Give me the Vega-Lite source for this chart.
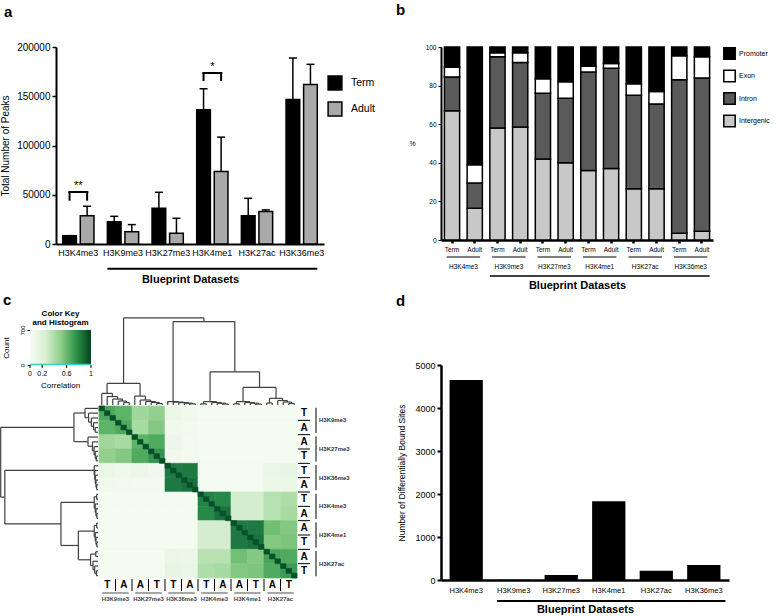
{
"$schema":"https://vega.github.io/schema/vega-lite/v6.json",
"background":"white",
"padding":{"left":0,"top":3,"right":0,"bottom":0},
"config":{"view":{"stroke":null},"font":"Liberation Sans",
 "axis":{"grid":false,"domainColor":"#000","tickColor":"#000","labelColor":"#000","titleColor":"#000","titleFontWeight":"normal"},
 "legend":{"labelColor":"#000"},
 "text":{"color":"#000"},
 "title":{"anchor":"start","fontWeight":"bold","fontSize":15,"color":"#000"}},
"resolve":{"scale":{"fill":"independent","color":"independent","stroke":"independent"},"legend":{"fill":"independent"}},
"datasets":{
"peaks":[
{"cat":"H3K4me3","grp":"Term","v":8500,"e":8500},
{"cat":"H3K4me3","grp":"Adult","v":28800,"e":38300},
{"cat":"H3K9me3","grp":"Term","v":22700,"e":28100},
{"cat":"H3K9me3","grp":"Adult","v":12500,"e":19700},
{"cat":"H3K27me3","grp":"Term","v":36300,"e":52500},
{"cat":"H3K27me3","grp":"Adult","v":10800,"e":26100},
{"cat":"H3K4me1","grp":"Term","v":136300,"e":157600},
{"cat":"H3K4me1","grp":"Adult","v":73600,"e":108500},
{"cat":"H3K27ac","grp":"Term","v":28800,"e":46400},
{"cat":"H3K27ac","grp":"Adult","v":32900,"e":34600},
{"cat":"H3K36me3","grp":"Term","v":146800,"e":188800},
{"cat":"H3K36me3","grp":"Adult","v":162000,"e":182400}],
"sig":[{"cat":"H3K4me3","lo":44000,"hi":52800,"ty":58500,"s":"**"},{"cat":"H3K4me1","lo":165500,"hi":173600,"ty":179500,"s":"*"}],
"regions":[
{"id":"H3K4me3 Term","reg":"Intergenic","pct":67,"k":1},{"id":"H3K4me3 Term","reg":"Intron","pct":17.5,"k":2},{"id":"H3K4me3 Term","reg":"Exon","pct":5,"k":3},{"id":"H3K4me3 Term","reg":"Promoter","pct":10.5,"k":4},
{"id":"H3K4me3 Adult","reg":"Intergenic","pct":16.5,"k":1},{"id":"H3K4me3 Adult","reg":"Intron","pct":13,"k":2},{"id":"H3K4me3 Adult","reg":"Exon","pct":9.5,"k":3},{"id":"H3K4me3 Adult","reg":"Promoter","pct":61,"k":4},
{"id":"H3K9me3 Term","reg":"Intergenic","pct":58,"k":1},{"id":"H3K9me3 Term","reg":"Intron","pct":37,"k":2},{"id":"H3K9me3 Term","reg":"Exon","pct":2,"k":3},{"id":"H3K9me3 Term","reg":"Promoter","pct":3,"k":4},
{"id":"H3K9me3 Adult","reg":"Intergenic","pct":58.5,"k":1},{"id":"H3K9me3 Adult","reg":"Intron","pct":33.5,"k":2},{"id":"H3K9me3 Adult","reg":"Exon","pct":5,"k":3},{"id":"H3K9me3 Adult","reg":"Promoter","pct":3,"k":4},
{"id":"H3K27me3 Term","reg":"Intergenic","pct":42,"k":1},{"id":"H3K27me3 Term","reg":"Intron","pct":34,"k":2},{"id":"H3K27me3 Term","reg":"Exon","pct":7.5,"k":3},{"id":"H3K27me3 Term","reg":"Promoter","pct":16.5,"k":4},
{"id":"H3K27me3 Adult","reg":"Intergenic","pct":40,"k":1},{"id":"H3K27me3 Adult","reg":"Intron","pct":33.5,"k":2},{"id":"H3K27me3 Adult","reg":"Exon","pct":8.5,"k":3},{"id":"H3K27me3 Adult","reg":"Promoter","pct":18,"k":4},
{"id":"H3K4me1 Term","reg":"Intergenic","pct":36,"k":1},{"id":"H3K4me1 Term","reg":"Intron","pct":51,"k":2},{"id":"H3K4me1 Term","reg":"Exon","pct":3,"k":3},{"id":"H3K4me1 Term","reg":"Promoter","pct":10,"k":4},
{"id":"H3K4me1 Adult","reg":"Intergenic","pct":37,"k":1},{"id":"H3K4me1 Adult","reg":"Intron","pct":52,"k":2},{"id":"H3K4me1 Adult","reg":"Exon","pct":2.5,"k":3},{"id":"H3K4me1 Adult","reg":"Promoter","pct":8.5,"k":4},
{"id":"H3K27ac Term","reg":"Intergenic","pct":26.5,"k":1},{"id":"H3K27ac Term","reg":"Intron","pct":48.5,"k":2},{"id":"H3K27ac Term","reg":"Exon","pct":6,"k":3},{"id":"H3K27ac Term","reg":"Promoter","pct":19,"k":4},
{"id":"H3K27ac Adult","reg":"Intergenic","pct":26.5,"k":1},{"id":"H3K27ac Adult","reg":"Intron","pct":44,"k":2},{"id":"H3K27ac Adult","reg":"Exon","pct":6.5,"k":3},{"id":"H3K27ac Adult","reg":"Promoter","pct":23,"k":4},
{"id":"H3K36me3 Term","reg":"Intergenic","pct":3.5,"k":1},{"id":"H3K36me3 Term","reg":"Intron","pct":79.5,"k":2},{"id":"H3K36me3 Term","reg":"Exon","pct":12.5,"k":3},{"id":"H3K36me3 Term","reg":"Promoter","pct":4.5,"k":4},
{"id":"H3K36me3 Adult","reg":"Intergenic","pct":4.5,"k":1},{"id":"H3K36me3 Adult","reg":"Intron","pct":79.5,"k":2},{"id":"H3K36me3 Adult","reg":"Exon","pct":11,"k":3},{"id":"H3K36me3 Adult","reg":"Promoter","pct":5,"k":4}],
"bgroups":[
{"a":"H3K4me3 Term","b":"H3K4me3 Adult","m":"H3K4me3"},
{"a":"H3K9me3 Term","b":"H3K9me3 Adult","m":"H3K9me3"},
{"a":"H3K27me3 Term","b":"H3K27me3 Adult","m":"H3K27me3"},
{"a":"H3K4me1 Term","b":"H3K4me1 Adult","m":"H3K4me1"},
{"a":"H3K27ac Term","b":"H3K27ac Adult","m":"H3K27ac"},
{"a":"H3K36me3 Term","b":"H3K36me3 Adult","m":"H3K36me3"}],
"keyticks":[{"t":0,"l":"0"},{"t":0.2,"l":"0.2"},{"t":0.6,"l":"0.6"},{"t":1,"l":"1"}],
"dbs":[{"cat":"H3K4me3","v":4650},{"cat":"H3K9me3","v":8},{"cat":"H3K27me3","v":115},{"cat":"H3K4me1","v":1830},{"cat":"H3K27ac","v":215},{"cat":"H3K36me3","v":350}],
"tree":[
{"xl":4.5,"xr":5.5,"h":2.5,"hl":0,"hr":0},{"xl":3.5,"xr":5,"h":4,"hl":0,"hr":2.5},{"xl":2.5,"xr":4.25,"h":6,"hl":0,"hr":4},{"xl":1.5,"xr":3.375,"h":8.5,"hl":0,"hr":6},{"xl":0.5,"xr":2.4375,"h":11.7,"hl":0,"hr":8.5},
{"xl":10.5,"xr":11.5,"h":1.5,"hl":0,"hr":0},{"xl":9.5,"xr":11,"h":2.5,"hl":0,"hr":1.5},{"xl":8.5,"xr":10.25,"h":3.5,"hl":0,"hr":2.5},{"xl":7.5,"xr":9.375,"h":5,"hl":0,"hr":3.5},{"xl":6.5,"xr":8.4375,"h":9,"hl":0,"hr":5},
{"xl":1.469,"xr":7.469,"h":21.7,"hl":11.7,"hr":9},
{"xl":16.5,"xr":17.5,"h":1.2,"hl":0,"hr":0},{"xl":15.5,"xr":17,"h":1.8,"hl":0,"hr":1.2},{"xl":14.5,"xr":16.25,"h":2.4,"hl":0,"hr":1.8},{"xl":13.5,"xr":15.375,"h":2.9,"hl":0,"hr":2.4},{"xl":12.5,"xr":14.4375,"h":3.4,"hl":0,"hr":2.9},
{"xl":18.5,"xr":19.5,"h":1.2,"hl":0,"hr":0},{"xl":22.5,"xr":23.5,"h":1,"hl":0,"hr":0},{"xl":21.5,"xr":23,"h":1.8,"hl":0,"hr":1},{"xl":20.5,"xr":22.25,"h":2.5,"hl":0,"hr":1.8},{"xl":19,"xr":21.375,"h":3.4,"hl":1.2,"hr":2.5},
{"xl":24.5,"xr":25.5,"h":1.2,"hl":0,"hr":0},{"xl":28.5,"xr":29.5,"h":1,"hl":0,"hr":0},{"xl":27.5,"xr":29,"h":1.8,"hl":0,"hr":1},{"xl":26.5,"xr":28.25,"h":2.5,"hl":0,"hr":1.8},{"xl":25,"xr":27.375,"h":3.4,"hl":1.2,"hr":2.5},
{"xl":30.5,"xr":31.5,"h":2,"hl":0,"hr":0},{"xl":34.5,"xr":35.5,"h":1.5,"hl":0,"hr":0},{"xl":33.5,"xr":35,"h":3,"hl":0,"hr":1.5},{"xl":32.5,"xr":34.25,"h":4.5,"hl":0,"hr":3},{"xl":31,"xr":33.375,"h":6.7,"hl":2,"hr":4.5},
{"xl":26.1875,"xr":32.1875,"h":17.7,"hl":3.4,"hr":6.7},
{"xl":20.1875,"xr":29.1875,"h":33.4,"hl":3.4,"hr":17.7},
{"xl":13.469,"xr":24.6875,"h":84,"hl":3.4,"hr":33.4},
{"xl":4.469,"xr":19.078,"h":87.7,"hl":21.7,"hr":84}],
"blocks":[
{"r":0,"c":0,"v":0.66},{"r":0,"c":1,"v":0.6},{"r":0,"c":2,"v":0.42},{"r":0,"c":3,"v":0.46},{"r":0,"c":4,"v":0.12},{"r":0,"c":5,"v":0.07},{"r":0,"c":6,"v":0.03},{"r":0,"c":7,"v":0.03},{"r":0,"c":8,"v":0.03},{"r":0,"c":9,"v":0.03},{"r":0,"c":10,"v":0.03},{"r":0,"c":11,"v":0.03},
{"r":1,"c":0,"v":0.6},{"r":1,"c":1,"v":0.65},{"r":1,"c":2,"v":0.4},{"r":1,"c":3,"v":0.5},{"r":1,"c":4,"v":0.07},{"r":1,"c":5,"v":0.05},{"r":1,"c":6,"v":0.03},{"r":1,"c":7,"v":0.03},{"r":1,"c":8,"v":0.03},{"r":1,"c":9,"v":0.03},{"r":1,"c":10,"v":0.03},{"r":1,"c":11,"v":0.03},
{"r":2,"c":0,"v":0.42},{"r":2,"c":1,"v":0.4},{"r":2,"c":2,"v":0.6},{"r":2,"c":3,"v":0.65},{"r":2,"c":4,"v":0.1},{"r":2,"c":5,"v":0.04},{"r":2,"c":6,"v":0.03},{"r":2,"c":7,"v":0.03},{"r":2,"c":8,"v":0.03},{"r":2,"c":9,"v":0.03},{"r":2,"c":10,"v":0.03},{"r":2,"c":11,"v":0.03},
{"r":3,"c":0,"v":0.46},{"r":3,"c":1,"v":0.5},{"r":3,"c":2,"v":0.65},{"r":3,"c":3,"v":0.75},{"r":3,"c":4,"v":0.06},{"r":3,"c":5,"v":0.04},{"r":3,"c":6,"v":0.03},{"r":3,"c":7,"v":0.03},{"r":3,"c":8,"v":0.03},{"r":3,"c":9,"v":0.03},{"r":3,"c":10,"v":0.03},{"r":3,"c":11,"v":0.03},
{"r":4,"c":0,"v":0.12},{"r":4,"c":1,"v":0.07},{"r":4,"c":2,"v":0.1},{"r":4,"c":3,"v":0.06},{"r":4,"c":4,"v":0.85},{"r":4,"c":5,"v":0.85},{"r":4,"c":6,"v":0.03},{"r":4,"c":7,"v":0.03},{"r":4,"c":8,"v":0.03},{"r":4,"c":9,"v":0.03},{"r":4,"c":10,"v":0.12},{"r":4,"c":11,"v":0.15},
{"r":5,"c":0,"v":0.07},{"r":5,"c":1,"v":0.05},{"r":5,"c":2,"v":0.04},{"r":5,"c":3,"v":0.04},{"r":5,"c":4,"v":0.85},{"r":5,"c":5,"v":0.88},{"r":5,"c":6,"v":0.03},{"r":5,"c":7,"v":0.03},{"r":5,"c":8,"v":0.03},{"r":5,"c":9,"v":0.03},{"r":5,"c":10,"v":0.1},{"r":5,"c":11,"v":0.12},
{"r":6,"c":0,"v":0.03},{"r":6,"c":1,"v":0.03},{"r":6,"c":2,"v":0.03},{"r":6,"c":3,"v":0.03},{"r":6,"c":4,"v":0.03},{"r":6,"c":5,"v":0.03},{"r":6,"c":6,"v":0.82},{"r":6,"c":7,"v":0.8},{"r":6,"c":8,"v":0.25},{"r":6,"c":9,"v":0.25},{"r":6,"c":10,"v":0.35},{"r":6,"c":11,"v":0.38},
{"r":7,"c":0,"v":0.03},{"r":7,"c":1,"v":0.03},{"r":7,"c":2,"v":0.03},{"r":7,"c":3,"v":0.03},{"r":7,"c":4,"v":0.03},{"r":7,"c":5,"v":0.03},{"r":7,"c":6,"v":0.8},{"r":7,"c":7,"v":0.88},{"r":7,"c":8,"v":0.25},{"r":7,"c":9,"v":0.25},{"r":7,"c":10,"v":0.35},{"r":7,"c":11,"v":0.4},
{"r":8,"c":0,"v":0.03},{"r":8,"c":1,"v":0.03},{"r":8,"c":2,"v":0.03},{"r":8,"c":3,"v":0.03},{"r":8,"c":4,"v":0.03},{"r":8,"c":5,"v":0.03},{"r":8,"c":6,"v":0.25},{"r":8,"c":7,"v":0.25},{"r":8,"c":8,"v":0.85},{"r":8,"c":9,"v":0.85},{"r":8,"c":10,"v":0.55},{"r":8,"c":11,"v":0.5},
{"r":9,"c":0,"v":0.03},{"r":9,"c":1,"v":0.03},{"r":9,"c":2,"v":0.03},{"r":9,"c":3,"v":0.03},{"r":9,"c":4,"v":0.03},{"r":9,"c":5,"v":0.03},{"r":9,"c":6,"v":0.25},{"r":9,"c":7,"v":0.25},{"r":9,"c":8,"v":0.85},{"r":9,"c":9,"v":0.88},{"r":9,"c":10,"v":0.5},{"r":9,"c":11,"v":0.52},
{"r":10,"c":0,"v":0.03},{"r":10,"c":1,"v":0.03},{"r":10,"c":2,"v":0.03},{"r":10,"c":3,"v":0.03},{"r":10,"c":4,"v":0.12},{"r":10,"c":5,"v":0.1},{"r":10,"c":6,"v":0.35},{"r":10,"c":7,"v":0.35},{"r":10,"c":8,"v":0.55},{"r":10,"c":9,"v":0.5},{"r":10,"c":10,"v":0.68},{"r":10,"c":11,"v":0.65},
{"r":11,"c":0,"v":0.03},{"r":11,"c":1,"v":0.03},{"r":11,"c":2,"v":0.03},{"r":11,"c":3,"v":0.03},{"r":11,"c":4,"v":0.15},{"r":11,"c":5,"v":0.12},{"r":11,"c":6,"v":0.38},{"r":11,"c":7,"v":0.4},{"r":11,"c":8,"v":0.5},{"r":11,"c":9,"v":0.52},{"r":11,"c":10,"v":0.65},{"r":11,"c":11,"v":0.72}],
"diag":[{"i":0,"v":1},{"i":1,"v":1},{"i":2,"v":1},{"i":3,"v":1},{"i":4,"v":1},{"i":5,"v":1},{"i":6,"v":1},{"i":7,"v":1},{"i":8,"v":1},{"i":9,"v":1},{"i":10,"v":1},{"i":11,"v":1},{"i":12,"v":1},{"i":13,"v":1},{"i":14,"v":1},{"i":15,"v":1},{"i":16,"v":1},{"i":17,"v":1},{"i":18,"v":1},{"i":19,"v":1},{"i":20,"v":1},{"i":21,"v":1},{"i":22,"v":1},{"i":23,"v":1},{"i":24,"v":1},{"i":25,"v":1},{"i":26,"v":1},{"i":27,"v":1},{"i":28,"v":1},{"i":29,"v":1},{"i":30,"v":1},{"i":31,"v":1},{"i":32,"v":1},{"i":33,"v":1},{"i":34,"v":1},{"i":35,"v":1}],
"letters":[{"b":0,"L":"T"},{"b":1,"L":"A"},{"b":2,"L":"A"},{"b":3,"L":"T"},{"b":4,"L":"T"},{"b":5,"L":"A"},{"b":6,"L":"T"},{"b":7,"L":"A"},{"b":8,"L":"A"},{"b":9,"L":"T"},{"b":10,"L":"A"},{"b":11,"L":"T"}],
"marks6":[{"m":"H3K9me3"},{"m":"H3K27me3"},{"m":"H3K36me3"},{"m":"H3K4me3"},{"m":"H3K4me1"},{"m":"H3K27ac"}]
},
"hconcat":[
{"vconcat":[
 {"width":268,"height":197,
  "title":{"text":"a","dx":-52,"offset":22,"frame":"group"},
  "layer":[
   {"data":{"name":"peaks"},"mark":{"type":"bar","stroke":"#000","strokeWidth":1.5},
    "encoding":{
     "x":{"field":"cat","type":"nominal","title":"Blueprint Datasets","scale":{"domain":["H3K4me3","H3K9me3","H3K27me3","H3K4me1","H3K27ac","H3K36me3"],"paddingInner":0.3,"paddingOuter":0.15},
      "axis":{"labelAngle":0,"labelFontSize":9,"ticks":false,"domainWidth":2,"labelPadding":4,"titleFontSize":11,"titleFontWeight":"bold","titlePadding":16}},
     "xOffset":{"field":"grp","type":"nominal","scale":{"domain":["Term","Adult"],"paddingInner":0.22}},
     "y":{"field":"v","type":"quantitative","title":"Total Number of Peaks","scale":{"domain":[0,200000],"nice":false},
      "axis":{"values":[0,50000,100000,150000,200000],"format":"d","labelFontSize":10,"titleFontSize":10,"domainWidth":2,"tickWidth":1.5,"tickSize":4,"titlePadding":6}},
     "fill":{"field":"grp","type":"nominal","scale":{"domain":["Term","Adult"],"range":["#000000","#a9a9a9"]},
      "legend":{"title":null,"orient":"none","legendX":271,"legendY":28,"symbolType":"square","symbolSize":190,"symbolStrokeColor":"#000","symbolStrokeWidth":1.5,"labelFontSize":10.5,"rowPadding":6,"labelOffset":8}}}},
   {"data":{"name":"peaks"},"mark":{"type":"rule","strokeWidth":1.5,"color":"#000"},
    "encoding":{"x":{"field":"cat","type":"nominal"},"xOffset":{"field":"grp","type":"nominal"},"y":{"field":"v","type":"quantitative"},"y2":{"field":"e"}}},
   {"data":{"name":"peaks"},"mark":{"type":"tick","orient":"horizontal","size":8,"thickness":1.5,"color":"#000","opacity":1},
    "encoding":{"x":{"field":"cat","type":"nominal"},"xOffset":{"field":"grp","type":"nominal"},"y":{"field":"e","type":"quantitative"}}},
   {"data":{"name":"sig"},"mark":{"type":"tick","orient":"horizontal","size":20,"thickness":2,"color":"#000","opacity":1},
    "encoding":{"x":{"field":"cat","type":"nominal"},"y":{"field":"hi","type":"quantitative"}}},
   {"data":{"name":"sig"},"mark":{"type":"rule","strokeWidth":2,"color":"#000"},
    "encoding":{"x":{"field":"cat","type":"nominal"},"xOffset":{"datum":"Term"},"y":{"field":"lo","type":"quantitative"},"y2":{"field":"hi"}}},
   {"data":{"name":"sig"},"mark":{"type":"rule","strokeWidth":2,"color":"#000"},
    "encoding":{"x":{"field":"cat","type":"nominal"},"xOffset":{"datum":"Adult"},"y":{"field":"lo","type":"quantitative"},"y2":{"field":"hi"}}},
   {"data":{"name":"sig"},"mark":{"type":"text","fontSize":11,"baseline":"middle","color":"#000"},
    "encoding":{"x":{"field":"cat","type":"nominal"},"y":{"field":"ty","type":"quantitative"},"text":{"field":"s"}}},
   {"data":{"values":[{"a":"H3K9me3","b":"H3K36me3"}]},"mark":{"type":"rule","strokeWidth":2,"color":"#000"},
    "encoding":{"x":{"field":"a","type":"nominal","bandPosition":0},"x2":{"field":"b","bandPosition":1},"y":{"datum":-25000}}}
  ]},
 {"title":{"text":"c","dx":3,"offset":2,"frame":"bounds"},
  "columns":4,"spacing":{"row":1,"column":1},"align":"each","bounds":"flush",
  "concat":[
   {"width":35,"height":35,
    "title":{"text":["Color Key","and Histogram"],"fontSize":8,"fontWeight":"bold","anchor":"middle","offset":-2,"lineHeight":9,"dx":-13},
    "layer":[
     {"data":{"values":[{"a":0,"b":1,"lo":0,"hi":700}]},
      "mark":{"type":"rect","color":{"gradient":"linear","stops":[{"offset":0,"color":"#f7fcf5"},{"offset":0.25,"color":"#d9f0d3"},{"offset":0.5,"color":"#8fcf8a"},{"offset":0.75,"color":"#2f9449"},{"offset":1,"color":"#00441b"}]}},
      "encoding":{"x":{"field":"a","type":"quantitative","scale":{"domain":[0.426,1],"nice":false,"zero":false},"axis":null},
       "x2":{"field":"b"},
       "y":{"field":"lo","type":"quantitative","scale":{"domain":[0,700],"nice":false},"axis":{"title":"Count","values":[0,300,700],"labelAngle":-90,"labelFontSize":6,"titleFontSize":8,"tickSize":3,"domain":false,"titlePadding":9,"offset":26}},
       "y2":{"field":"hi"}}},
     {"data":{"values":[{"a":0,"b":1,"n":8}]},"mark":{"type":"rule","color":"#2fd5c0","strokeWidth":1.5},
      "encoding":{"x":{"field":"a","type":"quantitative"},"x2":{"field":"b"},"y":{"field":"n","type":"quantitative"}}},
     {"data":{"name":"keyticks"},"mark":{"type":"rule","color":"#000","strokeWidth":1},
      "encoding":{"x":{"field":"t","type":"quantitative"},"y":{"datum":0},"y2":{"datum":-60}}},
     {"data":{"name":"keyticks"},"mark":{"type":"text","fontSize":7,"baseline":"middle","color":"#000"},
      "encoding":{"x":{"field":"t","type":"quantitative"},"y":{"datum":-170},"text":{"field":"l"}}},
     {"data":{"values":[{"t":0.5,"l":"Correlation"}]},"mark":{"type":"text","fontSize":8,"baseline":"middle","color":"#000"},
      "encoding":{"x":{"field":"t","type":"quantitative"},"y":{"datum":-410},"text":{"field":"l"}}}
    ]},
   {"width":198,"height":75,"data":{"name":"tree"},
    "layer":[
     {"mark":{"type":"rule","color":"#404040","strokeWidth":1.2},"encoding":{"x":{"field":"xl","type":"quantitative","scale":{"domain":[0,36],"nice":false,"zero":false},"axis":null},"x2":{"field":"xr"},"y":{"field":"h","type":"quantitative","scale":{"domain":[0,75.5],"nice":false},"axis":null}}},
     {"mark":{"type":"rule","color":"#404040","strokeWidth":1.2},"encoding":{"x":{"field":"xl","type":"quantitative"},"y":{"field":"h","type":"quantitative"},"y2":{"field":"hl"}}},
     {"mark":{"type":"rule","color":"#404040","strokeWidth":1.2},"encoding":{"x":{"field":"xr","type":"quantitative"},"y":{"field":"h","type":"quantitative"},"y2":{"field":"hr"}}}
    ]},
   {"width":1,"height":1,"data":{"values":[]},"mark":"point"},
   {"width":1,"height":1,"data":{"values":[]},"mark":"point"},
   {"width":42,"height":172,"data":{"name":"tree"},
    "layer":[
     {"mark":{"type":"rule","color":"#404040","strokeWidth":1.2},"encoding":{"y":{"field":"xl","type":"quantitative","scale":{"domain":[0,36],"nice":false,"zero":false,"reverse":true},"axis":null},"y2":{"field":"xr"},"x":{"field":"h","type":"quantitative","scale":{"domain":[0,37.86],"nice":false,"reverse":true},"axis":null}}},
     {"mark":{"type":"rule","color":"#404040","strokeWidth":1.2},"encoding":{"y":{"field":"xl","type":"quantitative"},"x":{"field":"h","type":"quantitative"},"x2":{"field":"hl"}}},
     {"mark":{"type":"rule","color":"#404040","strokeWidth":1.2},"encoding":{"y":{"field":"xr","type":"quantitative"},"x":{"field":"h","type":"quantitative"},"x2":{"field":"hr"}}}
    ]},
   {"width":198,"height":172,
    "layer":[
     {"data":{"name":"blocks"},"mark":{"type":"rect","strokeWidth":0.6},
      "encoding":{"x":{"field":"c","type":"ordinal","axis":null},"y":{"field":"r","type":"ordinal","axis":null},
       "color":{"field":"v","type":"quantitative","scale":{"domain":[0,0.2,0.4,0.6,0.8,1],"range":["#f7fcf5","#e2f3dd","#a8dba2","#5db567","#26894a","#07502a"]},"legend":null},
       "stroke":{"field":"v","type":"quantitative","scale":{"domain":[0,0.2,0.4,0.6,0.8,1],"range":["#f7fcf5","#e2f3dd","#a8dba2","#5db567","#26894a","#07502a"]},"legend":null}}},
     {"data":{"name":"diag"},"mark":{"type":"rect","strokeWidth":0.6},
      "encoding":{"x":{"field":"i","type":"ordinal","axis":null},"y":{"field":"i","type":"ordinal","axis":null},
       "color":{"field":"v","type":"quantitative","legend":null},
       "stroke":{"field":"v","type":"quantitative","legend":null}}}
    ],
    "resolve":{"scale":{"x":"independent","y":"independent"}}},
   {"width":12,"height":172,"data":{"name":"letters"},
    "layer":[
     {"mark":{"type":"text","fontSize":10,"fontWeight":"bold","baseline":"middle","color":"#000"},"encoding":{"y":{"field":"b","type":"ordinal","scale":{"type":"band","paddingInner":0,"paddingOuter":0},"axis":null},"text":{"field":"L"}}},
     {"transform":[{"filter":"datum.b > 0"}],"mark":{"type":"rule","color":"#000","strokeWidth":1},"encoding":{"y":{"field":"b","type":"ordinal","bandPosition":0,"scale":{"type":"band","paddingInner":0,"paddingOuter":0},"axis":null}}}
    ]},
   {"width":10,"height":172,"data":{"name":"marks6"},
    "layer":[
     {"mark":{"type":"rule","color":"#000","strokeWidth":1},"encoding":{"y":{"field":"m","type":"nominal","sort":null,"bandPosition":0.06,"scale":{"type":"band","paddingInner":0,"paddingOuter":0},"axis":null},"y2":{"field":"m","bandPosition":0.94}}},
     {"mark":{"type":"text","fontSize":6,"fontWeight":"bold","align":"left","dx":3,"baseline":"middle","color":"#333"},"encoding":{"y":{"field":"m","type":"nominal","sort":null,"scale":{"type":"band","paddingInner":0,"paddingOuter":0},"axis":null},"text":{"field":"m"}}}
    ]},
   {"width":1,"height":1,"data":{"values":[]},"mark":"point"},
   {"width":198,"height":12,"data":{"name":"letters"},
    "layer":[
     {"mark":{"type":"text","fontSize":10,"fontWeight":"bold","baseline":"middle","color":"#000"},"encoding":{"x":{"field":"b","type":"ordinal","scale":{"type":"band","paddingInner":0,"paddingOuter":0},"axis":null},"text":{"field":"L"}}},
     {"transform":[{"filter":"datum.b > 0"}],"mark":{"type":"rule","color":"#000","strokeWidth":1},"encoding":{"x":{"field":"b","type":"ordinal","bandPosition":0,"scale":{"type":"band","paddingInner":0,"paddingOuter":0},"axis":null}}}
    ]},
   {"width":1,"height":1,"data":{"values":[]},"mark":"point"},
   {"width":1,"height":1,"data":{"values":[]},"mark":"point"},
   {"width":1,"height":1,"data":{"values":[]},"mark":"point"},
   {"width":198,"height":14,"data":{"name":"marks6"},
    "layer":[
     {"mark":{"type":"rule","color":"#888","strokeWidth":1.5,"yOffset":-6},"encoding":{"x":{"field":"m","type":"nominal","sort":null,"bandPosition":0.1,"scale":{"type":"band","paddingInner":0,"paddingOuter":0},"axis":null},"x2":{"field":"m","bandPosition":0.9}}},
     {"mark":{"type":"text","fontSize":6,"fontWeight":"bold","baseline":"middle","color":"#444"},"encoding":{"x":{"field":"m","type":"nominal","sort":null,"scale":{"type":"band","paddingInner":0,"paddingOuter":0},"axis":null},"text":{"field":"m"}}}
    ]},
   {"width":1,"height":1,"data":{"values":[]},"mark":"point"},
   {"width":1,"height":1,"data":{"values":[]},"mark":"point"}
  ]}
 ],"spacing":8},
{"vconcat":[
 {"width":272,"height":193,
  "title":{"text":"b","dx":-45,"offset":26,"frame":"group"},
  "layer":[
   {"data":{"name":"regions"},"mark":{"type":"bar","stroke":"#000","strokeWidth":1.5},
    "encoding":{
     "x":{"field":"id","type":"nominal","title":"Blueprint Datasets","scale":{"domain":["H3K4me3 Term","H3K4me3 Adult","H3K9me3 Term","H3K9me3 Adult","H3K27me3 Term","H3K27me3 Adult","H3K4me1 Term","H3K4me1 Adult","H3K27ac Term","H3K27ac Adult","H3K36me3 Term","H3K36me3 Adult"],"paddingInner":0.33,"paddingOuter":0.15},
      "axis":{"labelExpr":"split(datum.value,' ')[1]","labelAngle":0,"labelFontSize":6.5,"labelPadding":3,"tickSize":3,"tickWidth":2.5,"domainWidth":2.5,"titleFontSize":11,"titleFontWeight":"bold","titlePadding":27}},
     "y":{"field":"pct","type":"quantitative","stack":"zero","title":"%","scale":{"domain":[0,100],"nice":false},
      "axis":{"tickCount":5,"format":"d","labelOverlap":false,"labelFontSize":6.5,"tickSize":3,"domainWidth":2,"titleAngle":0,"titleFontSize":7,"titlePadding":10,"titleBaseline":"middle","titleAlign":"right"}},
     "fill":{"field":"reg","type":"nominal","scale":{"domain":["Promoter","Exon","Intron","Intergenic"],"range":["#000000","#ffffff","#5a5a5a","#c8c8c8"]},
      "legend":{"title":null,"orient":"none","legendX":282,"legendY":0,"symbolType":"square","symbolSize":130,"symbolStrokeColor":"#000","symbolStrokeWidth":1.5,"labelFontSize":7,"rowPadding":3.5,"labelOffset":3}},
     "order":{"field":"k","type":"quantitative","sort":"ascending"}}},
   {"data":{"name":"bgroups"},"mark":{"type":"rule","strokeWidth":1.2,"color":"#000"},
    "encoding":{"x":{"field":"a","type":"nominal","bandPosition":0.15},"x2":{"field":"b","bandPosition":0.85},"y":{"datum":-8.8}}},
   {"data":{"name":"bgroups"},"mark":{"type":"text","fontSize":6.5,"baseline":"middle","color":"#000"},
    "encoding":{"x":{"field":"a","type":"nominal","bandPosition":1.25},"y":{"datum":-14},"text":{"field":"m"}}},
   {"data":{"values":[{"a":"H3K9me3 Term","b":"H3K36me3 Adult"}]},"mark":{"type":"rule","strokeWidth":1.5,"color":"#000"},
    "encoding":{"x":{"field":"a","type":"nominal","bandPosition":0},"x2":{"field":"b","bandPosition":1},"y":{"datum":-18.7}}}
  ]},
 {"width":288,"height":215,
  "title":{"text":"d","dx":-45,"offset":52,"frame":"group"},
  "layer":[
   {"data":{"name":"dbs"},"mark":{"type":"bar","color":"#000"},
    "encoding":{
     "x":{"field":"cat","type":"nominal","title":"Blueprint Datasets","scale":{"domain":["H3K4me3","H3K9me3","H3K27me3","H3K4me1","H3K27ac","H3K36me3"],"paddingInner":0.3,"paddingOuter":0.18},
      "axis":{"labelAngle":0,"labelFontSize":7.5,"ticks":false,"domainWidth":2.5,"labelPadding":6,"titleFontSize":11,"titleFontWeight":"bold","titlePadding":10}},
     "y":{"field":"v","type":"quantitative","title":"Number of Differentially Bound Sites","scale":{"domain":[0,5000],"nice":false},
      "axis":{"values":[0,1000,2000,3000,4000,5000],"format":"d","labelFontSize":9,"titleFontSize":8.5,"domainWidth":2.5,"tickSize":4,"tickWidth":2,"titlePadding":8}}}},
   {"data":{"values":[{"a":"H3K9me3","b":"H3K36me3"}]},"mark":{"type":"rule","strokeWidth":2,"color":"#000"},
    "encoding":{"x":{"field":"a","type":"nominal","bandPosition":0},"x2":{"field":"b","bandPosition":1.15},"y":{"datum":-488}}}
  ]}
 ],"spacing":125,"bounds":"flush"}
],
"spacing":21
}
